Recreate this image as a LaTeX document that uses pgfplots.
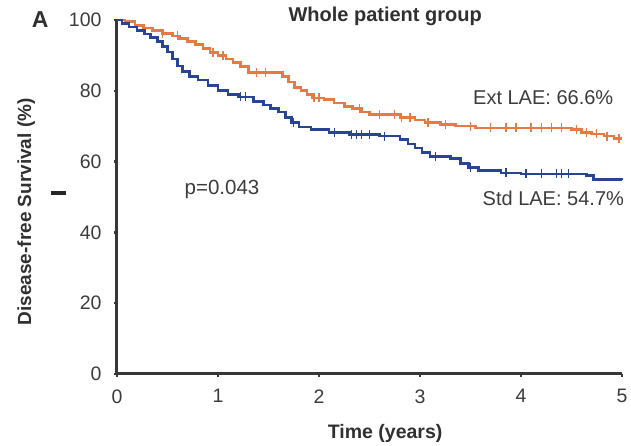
\documentclass[border=0pt]{standalone}
\usepackage{pgfplots}
\pgfplotsset{compat=1.18}
\usepackage{fontspec}
\setmainfont{Liberation Sans}
\definecolor{extc}{RGB}{230,122,66}
\definecolor{stdc}{RGB}{40,68,150}
\definecolor{txt}{RGB}{60,60,60}
\definecolor{axc}{RGB}{55,55,55}
\begin{document}
\begin{tikzpicture}
\useasboundingbox (-117pt,-72pt) rectangle (514pt,374pt);
\begin{axis}[
  at={(0pt,0pt)}, anchor=south west,
  scale only axis, width=505pt, height=354pt,
  xmin=0, xmax=5, ymin=0, ymax=100,
  axis lines=left, axis line style={-, line width=3pt, color=axc},
  xtick={0,1,2,3,4,5}, ytick={0,20,40,60,80,100},
  tick align=outside, major tick length=3pt,
  tick style={line width=2.5pt, color=axc},
  /pgf/number format/assume math mode=true,
  font=\fontsize{20}{23}\selectfont,
  tick label style={text=txt, font=\fontsize{19.5}{22}\selectfont},
  yticklabel style={xshift=-9pt},
  xticklabel style={yshift=-9pt},
  clip=false,
  xlabel={\textbf{Time (years)}},
  xlabel style={at={(rel axis cs:0.531,-0.167)}, anchor=center, text=txt!80!black, font=\fontsize{19.5}{22}\selectfont},
  ylabel={\textbf{Disease-free Survival (\%)}},
  ylabel style={at={(rel axis cs:-0.180,0.458)}, anchor=center, rotate=0, text=txt!80!black, font=\fontsize{19}{22}\selectfont},
  title={\textbf{Whole patient group}},
  title style={at={(rel axis cs:0.531,0.994)}, anchor=center, text=txt!80!black, font=\fontsize{20}{23}\selectfont},
]
% Ext LAE
\addplot[const plot, color=extc, line width=2.6pt] coordinates {
(0,100) (0.08,99.5) (0.18,98.5) (0.26,97.7) (0.35,97.0) (0.45,96.2) (0.55,95.5)
(0.62,94.8) (0.70,94.0) (0.78,93.0) (0.85,92.0) (0.92,90.8) (1.00,90.0) (1.08,89.0)
(1.15,88.0) (1.22,86.8) (1.30,85.2) (1.64,84.0) (1.70,82.5) (1.76,81.0) (1.82,80.0)
(1.88,79.0) (1.93,78.0) (2.05,77.5) (2.15,76.5) (2.25,75.5) (2.33,75.0) (2.42,74.0)
(2.50,73.3) (2.80,72.5) (2.95,71.8) (3.05,71.0) (3.20,70.5) (3.35,70.0) (3.55,69.5)
(4.50,69.0) (4.60,68.3) (4.70,67.8) (4.82,67.2) (4.92,66.6) (5.00,66.6)};
\addplot[only marks, mark=|, mark size=4.5pt, color=extc, mark options={line width=1.3pt}] coordinates {
(0.45,96.2) (0.60,95.5) (0.95,90.8) (1.05,90.0) (1.38,85.2) (1.47,85.2) (1.95,78.0)
(2.00,78.0) (2.40,75.0) (2.60,73.3) (2.75,73.3) (2.82,72.5) (2.90,72.5) (3.08,71.0)
(3.25,70.5) (3.50,70.0) (3.70,69.5) (3.85,69.5) (3.95,69.5) (4.10,69.5) (4.20,69.5)
(4.30,69.5) (4.40,69.5) (4.55,69.0) (4.65,68.3) (4.75,67.8) (4.85,67.2) (4.97,66.6)};
% Std LAE
\addplot[const plot, color=stdc, line width=2.6pt] coordinates {
(0,100) (0.05,99) (0.12,98) (0.20,97) (0.27,96) (0.33,95) (0.40,94) (0.45,92.5)
(0.50,91) (0.55,89) (0.60,87) (0.65,85.5) (0.72,84) (0.80,83) (0.90,81.5) (1.00,80)
(1.10,79) (1.20,78.3) (1.35,77) (1.45,76) (1.52,75) (1.60,74) (1.67,72.5) (1.73,71)
(1.80,69.8) (1.92,69) (2.10,68.2) (2.30,67.6) (2.60,67.2) (2.80,66.2) (2.88,65)
(2.95,63.8) (3.02,62.5) (3.10,61.5) (3.30,60.8) (3.40,59.5) (3.48,58.3) (3.58,57.5)
(3.80,56.8) (4.00,56.5) (4.65,56.0) (4.72,55.0) (5.00,54.7)};
\addplot[only marks, mark=|, mark size=4.5pt, color=stdc, mark options={line width=1.3pt}] coordinates {
(1.22,78.3) (1.27,78.3) (1.75,71) (2.15,68.2) (2.32,67.6) (2.37,67.6) (2.42,67.6)
(2.50,67.6) (2.65,67.2) (3.15,61.5) (3.50,58.3) (3.85,56.8) (4.05,56.5) (4.20,56.5)
(4.35,56.5) (4.40,56.5) (4.47,56.5)};
\node[text=txt] at (axis cs:4.22,78.2) {Ext LAE: 66.6\%};
\node[text=txt] at (axis cs:4.32,49.7) {Std LAE: 54.7\%};
\node[text=txt, font=\fontsize{20.5}{23}\selectfont] at (axis cs:1.04,52.0) {p=0.043};
\node[text=txt!80!black, font=\fontsize{23}{25}\selectfont\bfseries] at (rel axis cs:-0.152,1.0) {A};
\node[inner sep=0pt, text=black!85] at (axis cs:-0.584,51.1) {\rule{15pt}{4pt}};
\end{axis}
\end{tikzpicture}
\end{document}
